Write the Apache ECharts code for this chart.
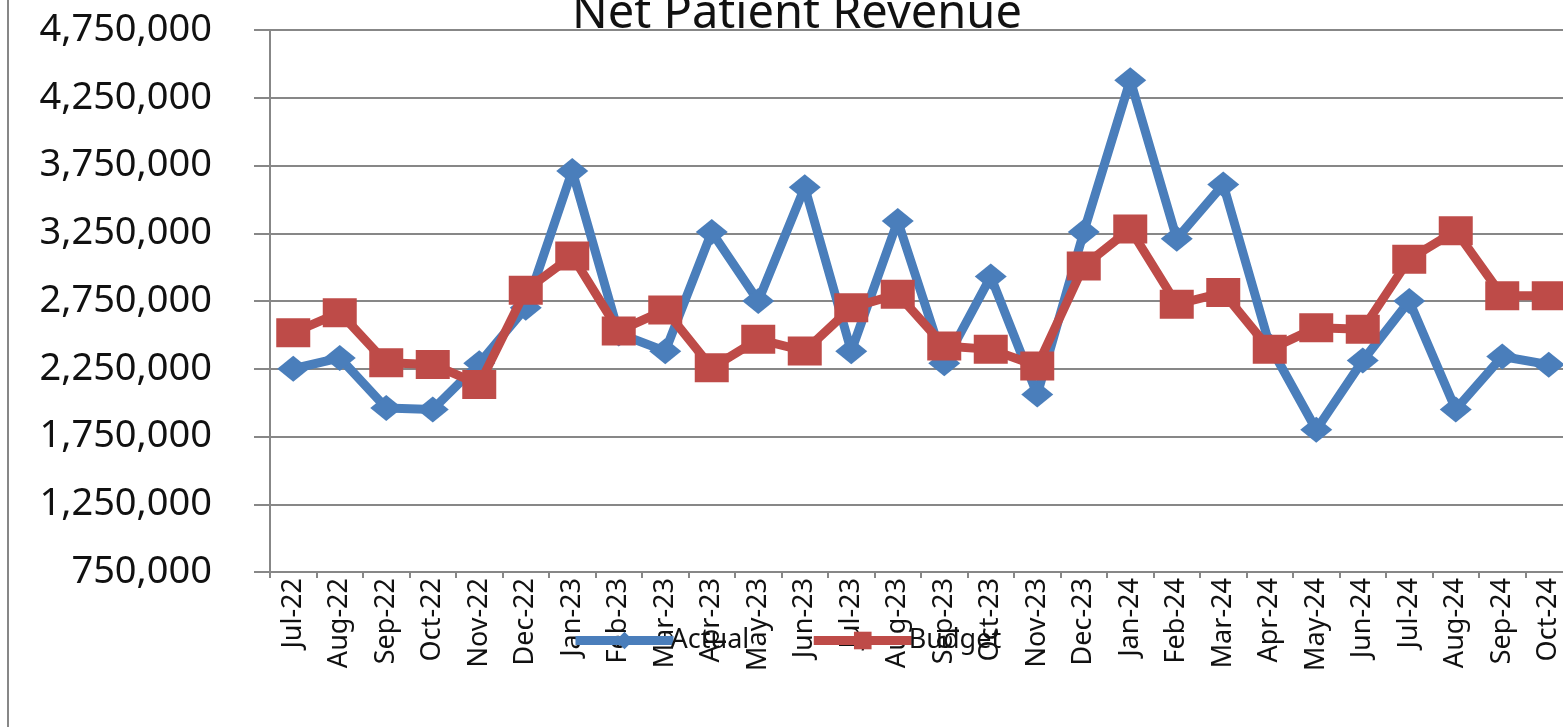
<!DOCTYPE html>
<html>
<head>
<meta charset="utf-8">
<script src="https://cdn.jsdelivr.net/npm/echarts@6/dist/echarts.min.js"></script>
<style>
  html, body { margin: 0; padding: 0; background: #fff; }
  #main { width: 1563px; height: 727px; }
</style>
</head>
<body>
<div id="main"></div>
<script>
// months on the x axis
var months = ['Jul-22', 'Aug-22', 'Sep-22', 'Oct-22', 'Nov-22', 'Dec-22',
  'Jan-23', 'Feb-23', 'Mar-23', 'Apr-23', 'May-23', 'Jun-23', 'Jul-23', 'Aug-23',
  'Sep-23', 'Oct-23', 'Nov-23', 'Dec-23', 'Jan-24', 'Feb-24', 'Mar-24', 'Apr-24',
  'May-24', 'Jun-24', 'Jul-24', 'Aug-24', 'Sep-24', 'Oct-24'];

var actual = [2250000, 2330000, 1960000, 1950000, 2290000, 2700000,
  3710000, 2510000, 2380000, 3260000, 2750000, 3590000, 2380000, 3340000,
  2290000, 2930000, 2060000, 3260000, 4380000, 3210000, 3610000, 2420000,
  1800000, 2310000, 2750000, 1950000, 2340000, 2280000];

var budget = [2516000, 2664000, 2294000, 2282000, 2134000, 2830000,
  3083000, 2529000, 2684000, 2257000, 2467000, 2381000, 2701000, 2800000,
  2418000, 2393000, 2270000, 3009000, 3281000, 2726000, 2812000, 2393000,
  2553000, 2541000, 3059000, 3268000, 2788000, 2788000];

var yTicks = {min: 750000, max: 4750000, step: 500000};

var gray = '#878787';
var font = 'Noto Sans';

var myChart = echarts.init(document.getElementById('main'));

var option = {
  backgroundColor: '#fff',
  animation: false,
  title: {
    text: 'Net Patient Revenue',
    left: 792,
    textAlign: 'center',
    top: -14,
    textStyle: {fontFamily: font, fontSize: 47, fontWeight: 'normal', color: '#111'}
  },
  legend: {
    left: 566,
    top: 622,
    itemWidth: 98,
    itemHeight: 22,
    itemGap: 60,
    lineStyle: {width: 9},
    textStyle: {fontFamily: font, fontSize: 27, color: '#111', padding: [0, 0, 0, -8]},
    data: ['Actual', 'Budget']
  },
  graphic: [
    {
      type: 'line',
      shape: {x1: 8, y1: 0, x2: 8, y2: 727},
      style: {stroke: gray, lineWidth: 2}
    }
  ],
  grid: {
    left: 270,
    top: 30,
    right: -9,
    bottom: 155,
    outerBoundsMode: 'none'
  },
  xAxis: {
    type: 'category',
    data: months,
    boundaryGap: true,
    axisLine: {lineStyle: {color: gray, width: 2}},
    axisTick: {show: true, length: 6, lineStyle: {color: gray, width: 2}},
    axisLabel: {
      rotate: 90,
      margin: 6,
      interval: 0,
      fontFamily: font,
      fontSize: 27,
      color: '#111'
    }
  },
  yAxis: {
    type: 'value',
    min: yTicks.min,
    max: yTicks.max,
    interval: yTicks.step,
    axisLine: {show: true, lineStyle: {color: gray, width: 2}},
    axisTick: {show: true, length: 16, lineStyle: {color: gray, width: 2}},
    splitLine: {lineStyle: {color: gray, width: 2}},
    axisLabel: {
      margin: 58,
      fontFamily: font,
      fontSize: 38,
      color: '#111',
      formatter: function (v) { return v.toLocaleString('en-US'); }
    }
  },
  series: [
    {
      name: 'Actual',
      type: 'line',
      data: actual,
      symbol: 'path://M0,1L1,0L2,1L1,2Z',
      symbolSize: [32, 26],
      showAllSymbol: true,
      lineStyle: {color: '#4A7EBB', width: 9},
      itemStyle: {color: '#4A7EBB'},
      z: 2
    },
    {
      name: 'Budget',
      type: 'line',
      data: budget,
      symbol: 'rect',
      symbolSize: [34, 29],
      showAllSymbol: true,
      lineStyle: {color: '#BE4B48', width: 9},
      itemStyle: {color: '#BE4B48'},
      z: 3
    }
  ]
};

myChart.setOption(option);
</script>
</body>
</html>
